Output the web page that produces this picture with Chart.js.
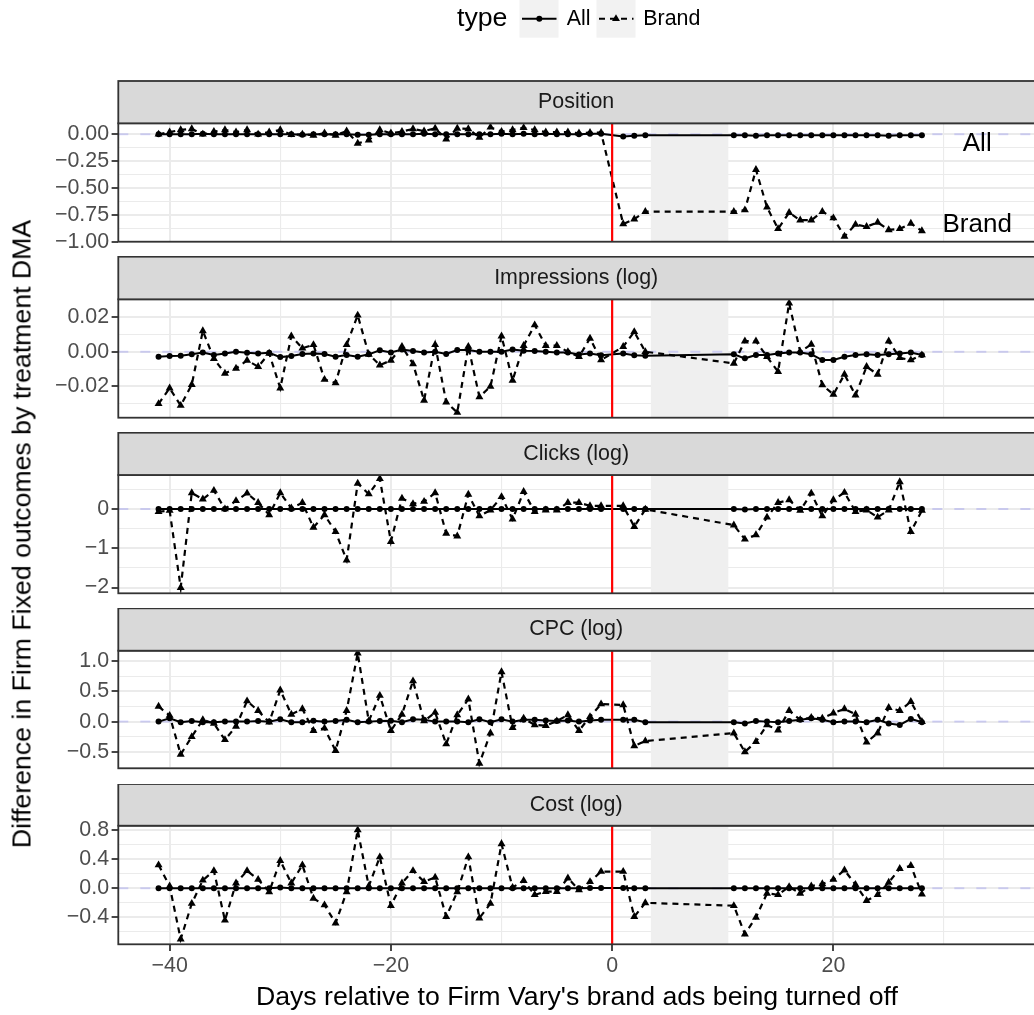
<!DOCTYPE html>
<html>
<head>
<meta charset="utf-8">
<script src="https://cdn.jsdelivr.net/npm/chart.js@4.4.1/dist/chart.umd.min.js"></script>
<style>
  body { margin: 0; background: #fff; }
  #wrap { position: relative; width: 1034px; height: 1015px; overflow: hidden; background: #fff;
          font-family: "Liberation Sans", Arial, sans-serif; }
  #wrap canvas { position: absolute; left: 0; }
  #ytitle { position: absolute; left: 22px; top: 533.8px; transform: translate(-50%, -50%) rotate(-90deg);
            white-space: nowrap; font-size: 26.7px; color: #000; }
</style>
</head>
<body>
<div id="wrap">
  <div id="ytitle">Difference in Firm Fixed outcomes by treatment DMA</div>
</div>
<script>
// ---- data ----
const days = [-41,-40,-39,-38,-37,-36,-35,-34,-33,-32,-31,-30,-29,-28,-27,-26,-25,-24,-23,-22,
  -21,-20,-19,-18,-17,-16,-15,-14,-13,-12,-11,-10,-9,-8,-7,-6,-5,-4,-3,-2,-1,
  1,2,3,11,12,13,14,15,16,17,18,19,20,21,22,23,24,25,26,27,28];

const positionAll = [0,0,0,0,0.005,0,0,0,0,0, 0,0,0,-0.005,0,0,0,0,-0.005,-0.005,
  0,0,0,0,0.005,0,0,0,0,0, 0,0.005,0,0.005,0,0.005,0,0,0,0.005, 0.005,
  -0.02,-0.015,-0.01, -0.01,-0.01,-0.015,-0.01,-0.01,-0.01,-0.01,-0.01,-0.01,-0.01,-0.01,-0.01,-0.01,-0.01,-0.015,-0.01,-0.01,-0.01];
const positionBrand = [0.00,0.02,0.04,0.05,0.00,0.025,0.04,0.02,0.04,0.00, 0.02,0.04,-0.005,0.00,-0.01,0.01,-0.01,0.03,-0.085,-0.055,
  0.04,0.01,0.025,0.05,0.03,0.055,-0.045,0.055,0.05,-0.03, 0.065,0.025,0.04,0.06,0.04,0.02,0.02,0.02,0.01,0.015, 0.015,
  -0.835,-0.79,-0.72, -0.72,-0.705,-0.33,-0.68,-0.88,-0.73,-0.80,-0.80,-0.72,-0.78,-0.95,-0.84,-0.86,-0.82,-0.89,-0.88,-0.83,-0.90];

const impressionsAll = [-0.0029,-0.0025,-0.0023,-0.0015,-0.0004,-0.0019,-0.001,0.0,-0.0006,-0.001,
  -0.0006,-0.0031,-0.0025,-0.0013,-0.001,-0.0013,-0.0029,-0.0019,-0.0029,-0.0015,
  0.0008,-0.0004,0.0013,0.0004,-0.0004,0.0,-0.0013,0.001,0.001,0.0,
  0.0,0.0,0.0013,0.0006,0.0004,0.0,-0.0004,-0.0004,-0.0016,-0.001, -0.002,
  -0.001,-0.002,-0.0023, -0.0015,-0.0038,-0.0019,-0.0019,-0.001,-0.0004,-0.0004,-0.0015,-0.0048,-0.0048,-0.0029,-0.0019,-0.0015,-0.0019,-0.0015,-0.001,-0.0004,-0.0019];
const impressionsBrand = [-0.030,-0.021,-0.031,-0.019,0.012,-0.004,-0.0125,-0.0096,-0.005,-0.0086,
  -0.001,-0.021,0.009,0.002,0.004,-0.016,-0.018,0.004,0.021,-0.0015,
  -0.0077,-0.005,0.003,-0.007,-0.028,0.004,-0.029,-0.035,0.003,-0.026,
  -0.020,0.009,-0.0165,0.0035,0.0154,0.0035,0.0035,0.0,-0.0029,0.0077, -0.0048,
  0.0029,0.0115,0.0, -0.0067,0.0061,0.0061,-0.0029,-0.0115,0.0279,0.0,0.0042,-0.0192,-0.0246,-0.0131,-0.025,-0.0086,-0.0131,0.0061,-0.0035,-0.0048,-0.0019];

const clicksAll = [0,0,0,0,0,0,0,0,0,0, 0,0,0,0,0,0,0,0,0,0,
  0,0,0,0,0,0,0,0,0,0, 0,0,0,0,0,0,0,0,0,0, 0,
  0,0,0, 0,-0.01,0,0,0,0,0,0,0,0,0,0,0,0,0,0,0,0];
const clicksBrand = [-0.07,-0.04,-2.0,0.41,0.25,0.47,0.0,0.21,0.40,0.16,
  -0.15,0.41,0.02,0.16,-0.47,-0.15,-0.58,-1.30,0.65,0.38,
  0.77,-0.83,0.27,0.13,0.19,0.41,-0.62,-0.69,0.37,-0.18,
  -0.03,0.31,-0.26,0.44,-0.07,-0.03,-0.03,0.16,0.16,0.08, 0.08,
  0.08,-0.45,-0.01, -0.41,-0.77,-0.66,-0.21,0.16,0.23,-0.04,0.40,-0.18,0.23,0.42,-0.07,-0.03,-0.21,-0.03,0.69,-0.58,-0.04];

const cpcAll = [0,0.055,-0.011,0.011,-0.011,-0.011,0,0,0,0.011,
  0,0.04,-0.011,-0.011,0.016,0,0.011,0.03,-0.011,0,
  0.011,0.016,-0.011,0.04,0.03,0,0,0,-0.011,0.04,
  -0.011,0.04,0,0.03,0.03,0.02,0.01,0.02,0,0.02, 0.03,
  0.03,0.03,-0.01, -0.01,-0.03,0.01,0,-0.01,0.01,0.03,0.055,0.03,-0.01,0,0,-0.01,0.03,-0.03,-0.055,0.045,-0.01];
const cpcBrand = [0.25,0.10,-0.54,-0.25,0.03,-0.03,-0.30,-0.08,0.34,0.18,
  -0.01,0.52,0.12,0.21,-0.15,-0.11,-0.48,0.18,1.13,0.01,
  0.43,-0.15,0.12,0.67,0.01,0.15,-0.37,0.11,0.37,-0.69,
  -0.19,0.82,-0.10,0.055,-0.055,-0.066,0.01,0.11,-0.15,0.08, 0.29,
  0.275,-0.40,-0.32, -0.19,-0.50,-0.33,-0.055,-0.14,0.18,0.03,0.066,0.055,0.14,0.21,0.12,-0.34,-0.19,0.23,0.18,0.33,0.0];

const costAll = [0,0,0,0,0,0,0,0,0,0, 0,0.01,0,0,0,0,0,0,0,0,
  0,0,0,0,0,0,0,0,0,0, 0,0,0,0,0,0,0,0,0,0.005, 0.005,
  0.005,0,0, 0,0,0,0,0,0,0,0,0,0,0,0,0,0,0,0,0,0];
const costBrand = [0.32,0.03,-0.70,-0.21,0.11,0.24,-0.44,0.07,0.24,0.12,
  -0.05,0.38,0.07,0.32,-0.14,-0.23,-0.48,-0.05,0.80,0.03,
  0.43,-0.24,0.07,0.24,0.09,0.15,-0.39,-0.05,0.43,-0.41,
  -0.21,0.61,0.01,0.105,-0.09,-0.046,-0.046,0.14,-0.023,0.09, 0.23,
  0.23,-0.39,-0.20, -0.24,-0.63,-0.40,-0.07,-0.09,0.02,-0.07,0.03,0.06,0.12,0.25,0.05,-0.17,-0.09,0.08,0.27,0.31,-0.08];

const panelTitles = ['Position', 'Impressions (log)', 'Clicks (log)', 'CPC (log)', 'Cost (log)'];
const seriesNames = ['All', 'Brand'];
const allSeries = [positionAll, impressionsAll, clicksAll, cpcAll, costAll];
const brandSeries = [positionBrand, impressionsBrand, clicksBrand, cpcBrand, costBrand];

const yRanges = [[-1.0, 0.102], [-0.038, 0.0302], [-2.145, 0.865], [-0.77, 1.17], [-0.77, 0.86]];
const yMajorTicks = [[0, -0.25, -0.5, -0.75, -1], [0.02, 0, -0.02], [0, -1, -2], [1, 0.5, 0, -0.5], [0.8, 0.4, 0, -0.4]];
const yMinorTicks = [[-0.125, -0.375, -0.625, -0.875], [0.01, -0.01, -0.03], [0.5, -0.5, -1.5], [0.75, 0.25, -0.25, -0.75], [0.6, 0.2, -0.2, -0.6]];
const yDecimals = [2, 2, 0, 1, 1];
const xRange = [-44.64, 38.26];
const xMajorTicks = [-40, -20, 0, 20];
const xMinorTicks = [-30, -10, 10, 30];

const cutoffDay = 0;
const shadeFrom = 3.5, shadeTo = 10.5;
const labelX = 33;
const labelY = [-0.09, -0.84];

// ---- layout (page pixels) ----
const FONT = '"Liberation Sans", Arial, sans-serif';
const plotLeft = 118.3, plotRight = 1036, canvasW = 1040;
const stripTops = [81, 256.7, 432.7, 608.3, 784];
const plotTops = [123.3, 299.3, 475, 650.7, 825.7];
const plotBottoms = [241.7, 417.7, 593.3, 768.3, 944.3];
const belowPlot = 22;   // spare canvas room so edge tick labels don't squeeze the plot

Chart.defaults.font.family = FONT;

function fmt(v, d) {
  return (v < 0 ? '\u2212' : '') + Math.abs(v).toFixed(d);
}

const panelDeco = {
  id: 'panelDeco',
  beforeDatasetsDraw(chart, args, opts) {
    const { ctx, chartArea: a, scales: { x, y } } = chart;
    ctx.save();
    ctx.beginPath();
    ctx.rect(a.left, a.top, a.right - a.left, a.bottom - a.top);
    ctx.clip();
    const x1 = x.getPixelForValue(shadeFrom), x2 = x.getPixelForValue(shadeTo);
    ctx.fillStyle = '#efefef';
    ctx.fillRect(x1, a.top, x2 - x1, a.bottom - a.top);
    const y0 = y.getPixelForValue(0);
    ctx.strokeStyle = 'rgba(0,0,255,0.14)';
    ctx.lineWidth = 2;
    ctx.setLineDash([10, 12]);
    ctx.beginPath();
    ctx.moveTo(a.left, y0);
    ctx.lineTo(a.right, y0);
    ctx.stroke();
    ctx.restore();
  },
  afterDatasetsDraw(chart, args, opts) {
    const { ctx, chartArea: a, scales: { x, y } } = chart;
    const i = opts.index;
    ctx.save();
    // day 0 marker
    const xc = x.getPixelForValue(cutoffDay);
    ctx.strokeStyle = '#ff0000';
    ctx.lineWidth = 2.2;
    ctx.beginPath();
    ctx.moveTo(xc, a.top);
    ctx.lineTo(xc, a.bottom);
    ctx.stroke();
    // direct labels
    if (i === 0) {
      ctx.fillStyle = '#000';
      ctx.font = '26px ' + FONT;
      ctx.textAlign = 'center';
      ctx.textBaseline = 'middle';
      seriesNames.forEach((n, k) => ctx.fillText(n, x.getPixelForValue(labelX), y.getPixelForValue(labelY[k])));
    }
    // panel border
    ctx.strokeStyle = '#333333';
    ctx.lineWidth = 1.8;
    ctx.strokeRect(a.left, a.top, a.right - a.left, a.bottom - a.top);
    // strip
    const sTop = opts.stripTop;
    ctx.fillStyle = '#d9d9d9';
    ctx.fillRect(a.left, sTop, a.right - a.left, a.top - sTop);
    ctx.strokeRect(a.left, sTop, a.right - a.left, a.top - sTop);
    ctx.fillStyle = '#1a1a1a';
    ctx.font = '21.4px ' + FONT;
    ctx.textAlign = 'center';
    ctx.textBaseline = 'middle';
    ctx.fillText(panelTitles[i], (plotLeft + 1034) / 2, (sTop + a.top) / 2);
    // legend
    if (i === 0) {
      const ly = 18.8;
      ctx.fillStyle = '#000';
      ctx.textAlign = 'left';
      ctx.font = '26.7px ' + FONT;
      ctx.fillText('type', 457, ly);
      ctx.fillStyle = '#f2f2f2';
      ctx.fillRect(519.5, 0, 39, 37.7);
      ctx.fillRect(596.5, 0, 39, 37.7);
      ctx.strokeStyle = '#000';
      ctx.fillStyle = '#000';
      ctx.lineWidth = 2;
      ctx.beginPath(); ctx.moveTo(522, ly); ctx.lineTo(556.5, ly); ctx.stroke();
      ctx.beginPath(); ctx.arc(539.3, ly, 3, 0, Math.PI * 2); ctx.fill();
      ctx.setLineDash([6, 5]);
      ctx.beginPath(); ctx.moveTo(599, ly); ctx.lineTo(633.5, ly); ctx.stroke();
      ctx.setLineDash([]);
      const r = 4.6, cx = 616;
      ctx.beginPath();
      ctx.moveTo(cx, ly - r);
      ctx.lineTo(cx + r * Math.sin(2 * Math.PI / 3), ly - r * Math.cos(2 * Math.PI / 3));
      ctx.lineTo(cx + r * Math.sin(4 * Math.PI / 3), ly - r * Math.cos(4 * Math.PI / 3));
      ctx.closePath();
      ctx.fill();
      ctx.font = '21.4px ' + FONT;
      ctx.fillText('All', 566.7, ly);
      ctx.fillText('Brand', 643.3, ly);
    }
    ctx.restore();
  }
};

function gridFor(majors, showTicks) {
  return {
    color: '#ebebeb',
    lineWidth: c => (c.tick && majors.includes(c.tick.value)) ? 2 : 1.1,
    drawTicks: showTicks,
    tickLength: 6.7,
    tickWidth: 1.8,
    tickColor: c => (c.tick && majors.includes(c.tick.value)) ? '#333333' : 'rgba(0,0,0,0)'
  };
}

const wrap = document.getElementById('wrap');

function makePanel(i) {
  const last = i === 4;
  const canvasTop = i === 0 ? 0 : Math.floor(stripTops[i]);
  const canvasH = last ? 1015 - canvasTop : Math.ceil(plotBottoms[i] - canvasTop + belowPlot);
  const cv = document.createElement('canvas');
  cv.width = canvasW;
  cv.height = canvasH;
  cv.style.top = canvasTop + 'px';
  cv.style.width = canvasW + 'px';
  cv.style.height = canvasH + 'px';
  wrap.insertBefore(cv, wrap.firstChild);

  const toPoints = vals => days.map((d, k) => ({ x: d, y: vals[k] }));
  const xTickVals = xMajorTicks.concat(xMinorTicks);
  const yTickVals = yMajorTicks[i].concat(yMinorTicks[i]);

  new Chart(cv, {
    type: 'line',
    data: {
      datasets: [
        {
          label: seriesNames[0],
          data: toPoints(allSeries[i]),
          borderColor: '#000',
          backgroundColor: '#000',
          borderWidth: 2,
          pointStyle: 'circle',
          pointRadius: 3,
          pointBorderWidth: 0,
          pointBackgroundColor: '#000',
          tension: 0
        },
        {
          label: seriesNames[1],
          data: toPoints(brandSeries[i]),
          borderColor: '#000',
          backgroundColor: '#000',
          borderWidth: 2.2,
          borderDash: [6, 5],
          pointStyle: 'triangle',
          pointRadius: 4.6,
          pointBorderWidth: 0,
          pointBackgroundColor: '#000',
          tension: 0
        }
      ]
    },
    options: {
      responsive: false,
      animation: false,
      events: [],
      layout: {
        padding: {
          top: plotTops[i] - canvasTop,
          bottom: last ? 0 : canvasH - (plotBottoms[i] - canvasTop),
          left: 0,
          right: canvasW - plotRight
        }
      },
      scales: {
        x: {
          type: 'linear',
          min: xRange[0],
          max: xRange[1],
          afterBuildTicks: s => { s.ticks = xTickVals.map(v => ({ value: v })); },
          afterFit: s => { s.height = last ? 1015 - plotBottoms[4] : 0; },
          border: { display: false },
          grid: gridFor(xMajorTicks, last),
          ticks: {
            display: last,
            autoSkip: false,
            maxRotation: 0,
            padding: 2,
            color: '#4d4d4d',
            font: { size: 21.4 },
            callback: v => xMajorTicks.includes(v) ? fmt(v, 0) : ''
          },
          title: {
            display: last,
            text: "Days relative to Firm Vary's brand ads being turned off",
            color: '#000',
            font: { size: 26.7 },
            padding: { top: 0, bottom: 1 }
          }
        },
        y: {
          min: yRanges[i][0],
          max: yRanges[i][1],
          afterBuildTicks: s => { s.ticks = yTickVals.map(v => ({ value: v })); },
          afterFit: s => { s.width = plotLeft; },
          border: { display: false },
          grid: gridFor(yMajorTicks[i], true),
          ticks: {
            autoSkip: false,
            padding: 2.5,
            color: '#4d4d4d',
            font: { size: 21.4 },
            callback: v => yMajorTicks[i].includes(v) ? fmt(v, yDecimals[i]) : ''
          }
        }
      },
      plugins: {
        legend: { display: false },
        tooltip: { enabled: false },
        panelDeco: { index: i, stripTop: stripTops[i] - canvasTop }
      }
    },
    plugins: [panelDeco]
  });
}

for (let i = 0; i < 5; i++) makePanel(i);
</script>
</body>
</html>
